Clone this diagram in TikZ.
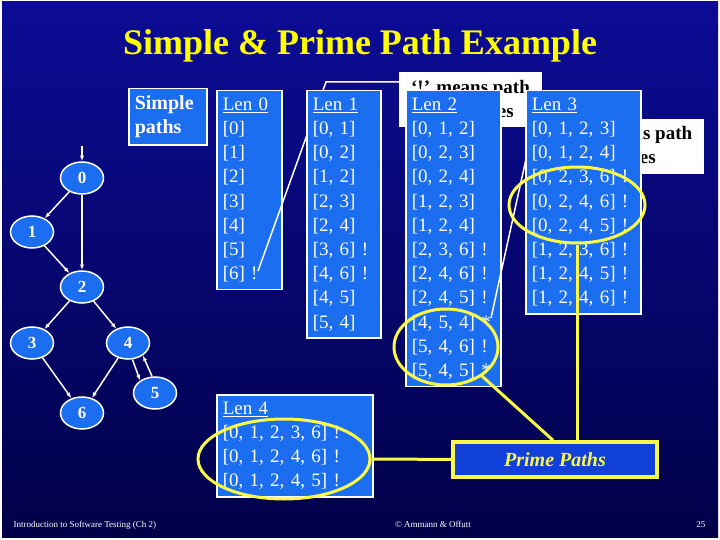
\documentclass[tikz,border=0pt]{standalone}
\usepackage{fontspec}
\setmainfont{Liberation Serif}
\usetikzlibrary{arrows.meta,positioning,shapes.geometric}
\definecolor{slidetop}{RGB}{12,12,150}
\definecolor{slidebottom}{RGB}{0,0,72}
\definecolor{boxblue}{RGB}{28,110,240}
\definecolor{primeblue}{RGB}{16,64,216}
\definecolor{hiyellow}{RGB}{250,250,70}
\definecolor{titleyellow}{RGB}{255,255,0}

\begin{document}
\begin{tikzpicture}[
  x=1pt,y=-1pt,
  listbox/.style={draw=white,line width=1.5pt,fill=boxblue,text=white,align=left,anchor=north west,inner xsep=6pt,inner ysep=7pt,font=\fontsize{19}{24.2}\selectfont},
  vertex/.style={ellipse,draw=white,line width=1.5pt,fill=boxblue,text=white,minimum width=43pt,minimum height=32pt,inner sep=0pt,font=\bfseries\fontsize{17}{17}\selectfont},
  edge/.style={-{Latex[length=2mm]},line width=1.5pt,white},
  pointer/.style={line width=1.5pt,white},
  note/.style={fill=white,text=black,align=center,minimum width=143pt,minimum height=55pt,inner sep=2pt,font=\bfseries\fontsize{19}{24}\selectfont},
  ring/.style={ellipse,draw=hiyellow,line width=3pt,inner sep=0pt},
  hilite/.style={line width=3pt,hiyellow},
  primebox/.style={draw=hiyellow,line width=3.5pt,fill=primeblue,text=hiyellow,minimum width=204pt,minimum height=35pt,font=\bfseries\itshape\fontsize{20}{20}\selectfont},
  footer/.style={text=white,font=\fontsize{9}{9}\selectfont}
]
\useasboundingbox (0,0) rectangle (720,540);
\fill[white] (0,0) rectangle (720,540);
\shade[top color=slidetop,bottom color=slidebottom] (2,2) rectangle (718,537);
\node[anchor=base,text=titleyellow,font=\bfseries\fontsize{36}{40}\selectfont] (title) at (360,55) {Simple \& Prime Path Example};

% graph
\coordinate (entry) at (82,146);
\node[vertex] (n0) at (82,178) {0};
\node[vertex] (n1) at (32,232) {1};
\node[vertex] (n2) at (82,287) {2};
\node[vertex] (n3) at (32,343) {3};
\node[vertex] (n4) at (128,343) {4};
\node[vertex] (n5) at (155,393) {5};
\node[vertex] (n6) at (82,413) {6};
\draw[edge] (entry) -- (n0);
\draw[edge] (n0) -- (n1);
\draw[edge] (n0) -- (n2);
\draw[edge] (n1) -- (n2);
\draw[edge] (n2) -- (n3);
\draw[edge] (n2) -- (n4);
\draw[edge] (n3) -- (n6);
\draw[edge] (n4) -- (n6);
\draw[edge] (n4.-75) -- (n5.140);
\draw[edge] (n5.100) -- (n4.-40);

% path lists
\node[listbox,font=\bfseries\fontsize{20}{24}\selectfont,text width=66pt] (simple) at (128,88) {Simple\\paths};
\node[listbox,text width=53pt] (len0) at (216,90) {\underline{Len 0}\\{}[0]\\{}[1]\\{}[2]\\{}[3]\\{}[4]\\{}[5]\\{}[6] !};
\node[note] (termnote) at (470.5,99.5) {‘!’ means path\\terminates};
\coordinate (bang) at (258,271);
\draw[pointer] (bang) -- (326,82) -- (termnote.west |- 0,82);
\node[listbox,text width=62pt,right=23.5pt of len0.north east,anchor=north west] (len1) {\underline{Len 1}\\{}[0, 1]\\{}[0, 2]\\{}[1, 2]\\{}[2, 3]\\{}[2, 4]\\{}[3, 6] !\\{}[4, 6] !\\{}[4, 5]\\{}[5, 4]};
\node[listbox,text width=83pt,right=23.5pt of len1.north east,anchor=north west] (len2) {\underline{Len 2}\\{}[0, 1, 2]\\{}[0, 2, 3]\\{}[0, 2, 4]\\{}[1, 2, 3]\\{}[1, 2, 4]\\{}[2, 3, 6] !\\{}[2, 4, 6] !\\{}[2, 4, 5] !\\{}[4, 5, 4] *\\{}[5, 4, 6] !\\{}[5, 4, 5] *};
\node[note] (cyclenote) at (632,147) {‘*’ means path\\cycles};
\coordinate (star) at (491,318);
\draw[pointer] (star) -- (528,150) -- (cyclenote.west);
\node[listbox,text width=103pt,right=23.5pt of len2.north east,anchor=north west] (len3) {\underline{Len 3}\\{}[0, 1, 2, 3]\\{}[0, 1, 2, 4]\\{}[0, 2, 3, 6] !\\{}[0, 2, 4, 6] !\\{}[0, 2, 4, 5] !\\{}[1, 2, 3, 6] !\\{}[1, 2, 4, 5] !\\{}[1, 2, 4, 6] !};
\node[listbox,text width=144pt] (len4) at (216,394) {\underline{Len 4}\\{}[0, 1, 2, 3, 6] !\\{}[0, 1, 2, 4, 6] !\\{}[0, 1, 2, 4, 5] !};

% prime paths
\node[ring,minimum width=104pt,minimum height=76pt] (ring2) at (446,347) {};
\node[ring,minimum width=136pt,minimum height=76pt] (ring3) at (577,205) {};
\node[ring,minimum width=172pt,minimum height=80pt] (ring4) at (284,459) {};
\node[primebox] (prime) at (555,459.5) {Prime Paths};
\draw[hilite] (ring4) -- (prime);
\draw[hilite] (ring2.-39) -- ([xshift=-2pt]prime.north);
\draw[hilite] (ring3) -- (ring3 |- prime.north);

\node[footer,anchor=base west] (course) at (10,527) {Introduction to Software Testing (Ch 2)};
\node[footer,anchor=base] (authors) at (433,527) {© Ammann \& Offutt};
\node[footer,anchor=base east] (page) at (709,527) {25};
\end{tikzpicture}
\end{document}
